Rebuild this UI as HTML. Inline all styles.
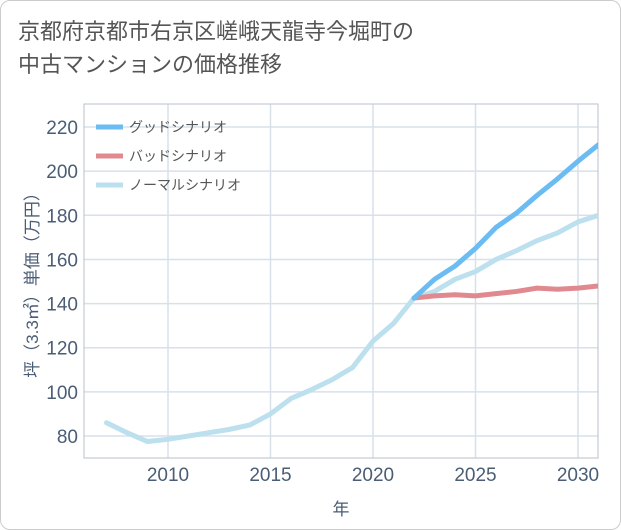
<!DOCTYPE html>
<html><head><meta charset="utf-8">
<style>
body{margin:0;background:#fff;}
.wrap{position:relative;width:619px;height:528px;border:1px solid #ccc;border-radius:10px;overflow:hidden;background:#fff;}
.title{position:absolute;left:17px;top:14px;font-family:"Liberation Sans","Noto Sans CJK JP",sans-serif;font-size:22px;line-height:33px;color:#555;}
svg{position:absolute;left:0;top:0;}
text{font-family:"Liberation Sans","Noto Sans CJK JP",sans-serif;}
</style></head><body>
<div class="wrap">
<div class="title">京都府京都市右京区嵯峨天龍寺今堀町の<br>中古マンションの価格推移</div>
<svg width="621" height="530" id="chart"><defs><clipPath id="pc"><rect x="83" y="103" width="514" height="354"/></clipPath></defs></svg>
</div>
<script>
const years=[2007,2008,2009,2010,2011,2012,2013,2014,2015,2016,2017,2018,2019,2020,2021,2022,2023,2024,2025,2026,2027,2028,2029,2030,2031];
const normal=[86,81.5,77.5,78.5,80,81.5,83,85,90,97,101,105.5,111,123,131,142.5,145.5,151,154.5,160,164,168.5,172,177,180];
const scenYears=[2022,2023,2024,2025,2026,2027,2028,2029,2030,2031];
const good=[142.5,151,157,165,174.5,181,189,196.5,204.5,212];
const bad=[142.5,143.5,144,143.5,144.5,145.5,147,146.5,147,148];
const xTicks=[2010,2015,2020,2025,2030];
const yTicks=[80,100,120,140,160,180,200,220];
const L=83,R=597,T=103,B=457;
const x=v=>167+(v-2010)*20.5;
const y=v=>435-(v-80)*2.207;
const svg=document.getElementById('chart');
const NS='http://www.w3.org/2000/svg';
function mk(t,a){const e=document.createElementNS(NS,t);for(const k in a)e.setAttribute(k,a[k]);svg.appendChild(e);return e;}
for(const v of yTicks){
 const g=mk('line',{x1:L,x2:R,y1:y(v),y2:y(v),stroke:'#d8e1ea','stroke-width':1.5});
 
 
 const t=mk('text',{x:L-6,y:y(v)+7,'text-anchor':'end','font-size':19,fill:'#4a5d75'});t.textContent=v;
 
 
}
for(const v of xTicks){
 const g=mk('line',{x1:x(v),x2:x(v),y1:T,y2:B,stroke:'#d8e1ea','stroke-width':1.5});
 
 
 const t=mk('text',{x:x(v),y:B+23,'text-anchor':'middle','font-size':19,fill:'#4a5d75'});t.textContent=v;
 
 
}
const fr=mk('rect',{x:L,y:T,width:R-L,height:B-T,fill:'none',stroke:'#b8c2cc','stroke-width':1});


function line(xs,ys,col,name){
 const p=mk('polyline',{points:xs.map((v,i)=>x(v)+','+y(ys[i])).join(' '),fill:'none',stroke:col,'stroke-width':5,'stroke-linejoin':'round','stroke-linecap':'round','clip-path':'url(#pc)'});
 
 
}
line(years,normal,'#bde0ef','normal-scenario-line');
line(scenYears,bad,'#e08a90','bad-scenario-line');
line(scenYears,good,'#6bbcf2','good-scenario-line');
const leg=[['グッドシナリオ','#6bbcf2'],['バッドシナリオ','#e08a90'],['ノーマルシナリオ','#bde0ef']];
leg.forEach((d,i)=>{
 const yy=126+i*29;
 const l=mk('line',{x1:95,x2:122,y1:yy,y2:yy,stroke:d[1],'stroke-width':5});
 
 
 const t=mk('text',{x:128,y:yy+5,'font-size':14,fill:'#555'});t.textContent=d[0];
 
 
});
const xt=mk('text',{x:340,y:514,'text-anchor':'middle','font-size':17,fill:'#4a5d75'});xt.textContent='年';


const yt=mk('text',{x:0,y:0,'text-anchor':'middle','font-size':17,fill:'#4a5d75',transform:'translate(37,280) rotate(-90)'});yt.textContent='坪（3.3㎡）単価（万円）';


</script>
</body></html>
